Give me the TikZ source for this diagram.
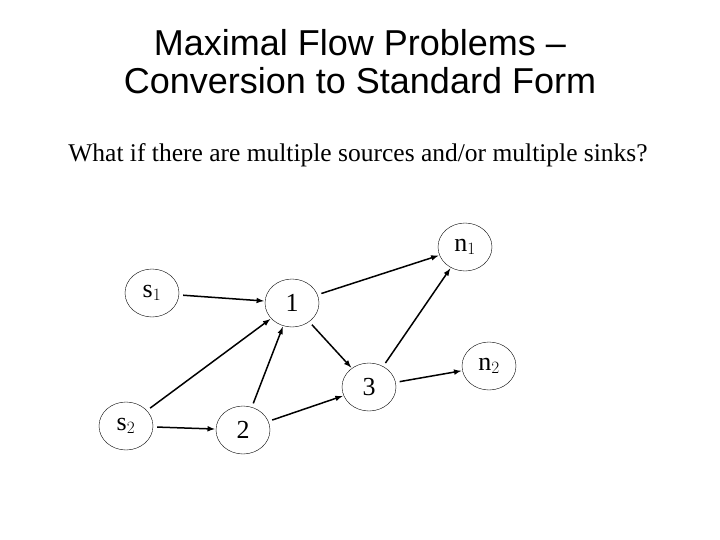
\documentclass[tikz,border=0pt]{standalone}
\usepackage{fontspec}
\setmainfont{Liberation Serif}
\newfontfamily\titlefont{Liberation Sans}
\usetikzlibrary{arrows,shapes.geometric}

\begin{document}
\begin{tikzpicture}[x=1pt,y=-1pt,
  netnode/.style={ellipse,draw,line width=0.4pt,minimum width=54pt,minimum height=48pt,inner sep=0pt,font=\fontsize{26}{28}\selectfont},
  flow/.style={->,>=latex,line width=1.5pt,shorten <=4pt,shorten >=1pt}]
  \useasboundingbox (0,0) rectangle (720,540);

  % heading
  \node[font=\titlefont\fontsize{36}{38}\selectfont,align=center] (title) at (360,62)
    {Maximal Flow Problems –\\Conversion to Standard Form};
  \node[font=\fontsize{25.5}{28}\selectfont] (question) at (358,155)
    {What if there are multiple sources and/or multiple sinks?};

  % nodes
  \node[netnode] (s1) at (152,293) {s$_1$};
  \node[netnode] (s2) at (126,426) {s$_2$};
  \node[netnode] (v1) at (292,303) {1};
  \node[netnode] (v2) at (243,430) {2};
  \node[netnode] (v3) at (369,387) {3};
  \node[netnode] (n1) at (465,247) {n$_1$};
  \node[netnode] (n2) at (489,366) {n$_2$};

  % arcs
  \draw[flow] (s1) -- (v1);
  \draw[flow] (s2) -- (v1);
  \draw[flow] (s2) -- (v2);
  \draw[flow] (v2) -- (v1);
  \draw[flow] (v2) -- (v3);
  \draw[flow] (v1) -- (v3);
  \draw[flow] (v1) -- (n1);
  \draw[flow] (v3) -- (n1);
  \draw[flow] (v3) -- (n2);
\end{tikzpicture}
\end{document}
